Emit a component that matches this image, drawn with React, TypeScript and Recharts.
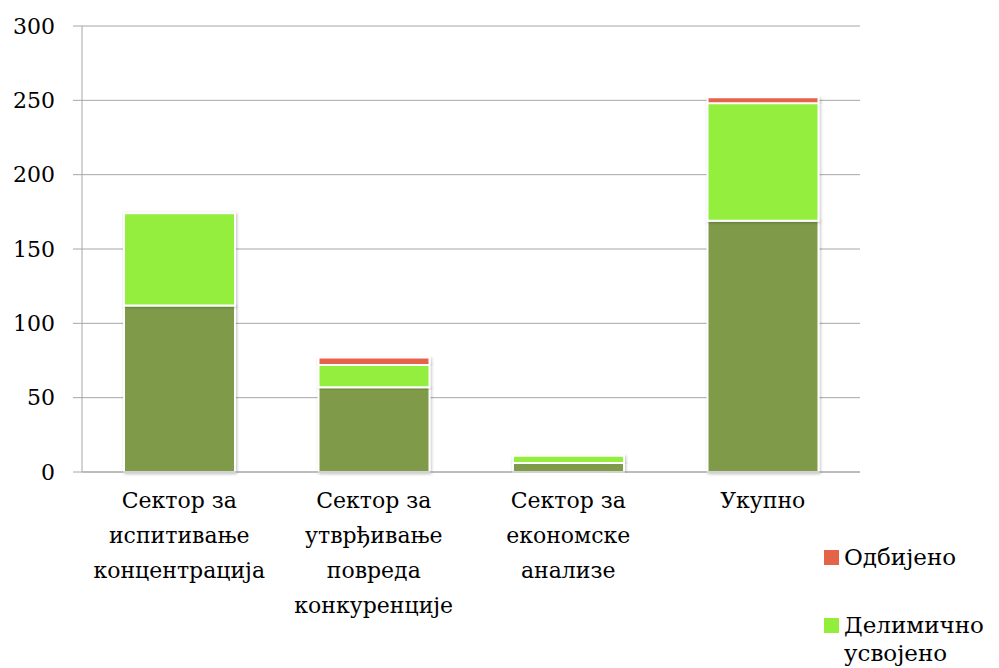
import { BarChart, Bar, XAxis, YAxis, CartesianGrid } from 'recharts';

const categories = [
  'Сектор за\nиспитивање\nконцентрација',
  'Сектор за\nутврђивање\nповреда\nконкуренције',
  'Сектор за\nекономске\nанализе',
  'Укупно',
];
const usvojeno = [112, 57, 6, 169];
const delimicno = [62, 15, 5, 79];
const odbijeno = [0, 5, 0, 4];
const yTicks = [0, 50, 100, 150, 200, 250, 300];

const SERIES = [
  { key: 'usvojeno', name: 'Усвојено', color: '#7f9a4a' },
  { key: 'delimicno', name: 'Делимично усвојено', color: '#93ee3c' },
  { key: 'odbijeno', name: 'Одбијено', color: '#e4644a' },
];

// only the top two legend entries fit inside the picture
const LEGEND_ITEMS = [...SERIES].reverse().slice(0, 2);

const FONT = '"DejaVu Serif", serif';
const GRID = '#a6a6a6';

const data = categories.map((name, i) => ({
  name,
  usvojeno: usvojeno[i],
  delimicno: delimicno[i],
  odbijeno: odbijeno[i],
}));

function CategoryTick({ x, y, payload }: any) {
  const lines = String(payload.value).split('\n');
  return (
    <text x={x} y={y} textAnchor="middle" fill="#000" fontSize={22} fontFamily={FONT}>
      {lines.map((line, i) => (
        <tspan key={i} x={x} dy={i === 0 ? 508 - y : 35}>
          {line}
        </tspan>
      ))}
    </text>
  );
}

export default function App() {
  return (
    <div style={{ position: 'fixed', left: 0, top: 0, width: 999, height: 668, overflow: 'hidden', background: '#fff' }}>
      <BarChart
        width={999}
        height={668}
        data={data}
        margin={{ top: 26, right: 139, left: 0, bottom: 0 }}
      >
        <defs>
          <filter id="barShadow" x="-10%" y="-10%" width="120%" height="120%">
            <feDropShadow dx="1" dy="1" stdDeviation="1.5" floodColor="#000" floodOpacity="0.25" />
          </filter>
        </defs>
        <CartesianGrid vertical={false} stroke={GRID} strokeWidth={1} />
        <XAxis
          dataKey="name"
          interval={0}
          height={196}
          tickLine={false}
          axisLine={{ stroke: GRID }}
          tick={<CategoryTick />}
        />
        <YAxis
          width={82}
          domain={[0, 300]}
          ticks={yTicks}
          interval={0}
          tickSize={9}
          tickMargin={18}
          tickLine={{ stroke: GRID }}
          axisLine={{ stroke: GRID }}
          tick={{ fill: '#000', fontSize: 22, fontFamily: FONT }}
        />
        {SERIES.map((s) => (
          <Bar
            key={s.key}
            dataKey={s.key}
            name={s.name}
            stackId="a"
            fill={s.color}
            stroke="#fff"
            strokeWidth={2}
            barSize={111}
            filter="url(#barShadow)"
            isAnimationActive={false}
          />
        ))}
      </BarChart>
      <div style={{ position: 'absolute', left: 824, top: 543, fontFamily: FONT, fontSize: 23, color: '#000' }}>
        {LEGEND_ITEMS.map((s) => (
          <div key={s.key} style={{ display: 'flex', alignItems: 'flex-start', width: 175, height: 68 }}>
            <span
              style={{
                display: 'inline-block',
                width: 15,
                height: 15,
                background: s.color,
                marginTop: 7,
                marginRight: 5,
                flexShrink: 0,
              }}
            />
            <span style={{ lineHeight: '28px' }}>{s.name}</span>
          </div>
        ))}
      </div>
    </div>
  );
}
